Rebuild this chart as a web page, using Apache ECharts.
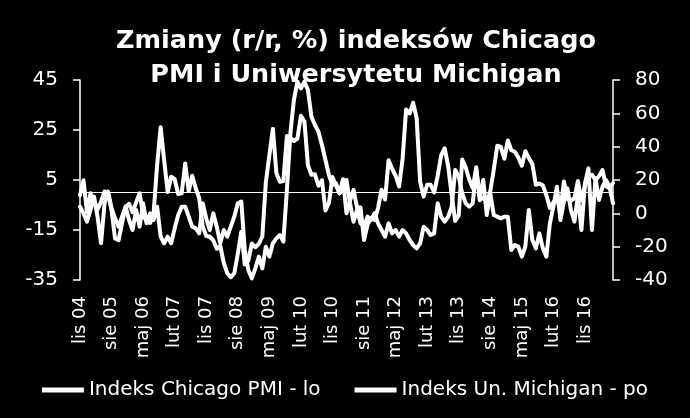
<!DOCTYPE html>
<html>
<head>
<meta charset="utf-8">
<script src="https://cdn.jsdelivr.net/npm/echarts@6/dist/echarts.min.js"></script>
<style>
html,body{margin:0;padding:0;background:#000;}
#chart{width:690px;height:418px;}
</style>
</head>
<body>
<div id="chart"></div>
<script>
// Month names (Polish) used for category labels
const monthNames = ['sty','lut','mar','kwi','maj','cze','lip','sie','wrz','paź','lis','gru'];
const startYear = 2004, startMonth = 10, nMonths = 153; // lis 04 .. lip 17

// Left axis series (legend: "Indeks Chicago PMI - lo"), % y/y
const pmiChicago = [
  -1.0, 4.9,
  -8.0, -0.3, -3.3, -6.9, -3.7, 0.4, -0.2, -7.1, -18.4, -19.1, -12.1, -5.8,
  -4.5, -7.9, -4.0, -0.3, -9.0, -11.6, -12.2, -8.0, 11.0, 26.1, 12.9, 0.2,
  6.3, 5.3, -0.6, -0.3, 11.6, 0.5, 6.7, 1.7, -2.3, -13.6, -17.4, -17.7,
  -19.1, -22.5, -21.4, -28.1, -32.3, -33.9, -32.3, -24.5, -15.7, -28.8, -27.3, -20.4,
  -21.9, -20.5, -17.6, 4.0, 14.9, 25.5, 7.8, 4.3, 4.6, 22.6, 21.9, 20.6,
  21.6, 30.7, 28.4, 10.9, 7.1, 7.3, 2.7, 4.9, -7.2, -4.1, 6.2, 2.8,
  -0.3, 5.3, -8.3, -3.3, 1.0, -5.9, -6.0, -19.0, -12.8, -10.2, -11.0, -6.2,
  1.1, -2.8, 12.9, 9.5, 6.7, 2.4, 13.5, 33.2, 31.6, 35.9, 29.8, 4.3,
  -1.6, 3.1, 3.1, 0.0, 6.6, 14.9, 17.7, 10.5, -1.0, -11.4, -9.2, 13.2,
  10.0, 5.2, 1.8, 10.1, -3.1, -1.9, -3.9, 0.5, 9.2, 18.7, 18.2, 13.5,
  20.8, 16.9, 16.3, 14.0, 10.7, 16.5, 13.8, 11.4, 3.1, 3.6, 2.8, -1.1,
  -6.2, -3.9, -2.2, -7.2, 4.4, -2.7, -3.3, -2.3, 4.6, -3.1, 2.7, 6.0,
  7.1, 5.0, 6.5, 9.0, 2.5, 1.7, 3.8
];

// Right axis series (legend: "Indeks Un. Michigan - po"), % y/y
const umMichigan = [
  4, 0,
  -5, 2, 10, -2, -18, 6, 13, 3, -3, -8, -2, 4,
  -4, -10, 2, -8, 6, -6, 0, -4, 4, -14, -18, -14,
  -18, -9, -1, 4, 4, -2, -8, -9, -12, 6, -3, -10,
  0, -8, -18, -10, -14, -8, -2, 6, 7, -22, -34, -39,
  -33, -26, -33, -20, -26, -18, -15, -13, -17, 14, 48, 68,
  79, 75, 79, 74, 58, 53, 49, 41, 32, 23, 17, 18,
  12, 14, 20, 6, -5, 2, -6, -8, -2, -4, 0, -6,
  -10, -14, -6, -12, -10, -14, -10, -12, -16, -19, -21, -18,
  -8, -10, -13, -12, 6, -2, -5, -2, 4, 26, 22, 12,
  6, 4, 6, 26, 10, 20, -1, 12, -1, -2, -3, -2,
  -2, -22, -19, -20, -26, -20, 2, -16, -21, -12, -21, -26,
  -6, 4, 16, -4, 7, 15, 2, -5, 11, -10, 18, 27,
  -10, 21, 8, 16, 20, 16, 6
];

const seriesNames = ['Indeks Chicago PMI - lo', 'Indeks Un. Michigan - po'];
const titleText = 'Zmiany (r/r, %) indeksów Chicago\nPMI i Uniwersytetu Michigan';

const categories = [];
for (let i = 0; i < nMonths; i++) {
  const m = (startMonth + i) % 12;
  const y = startYear + Math.floor((startMonth + i) / 12);
  categories.push(monthNames[m] + ' ' + String(y % 100).padStart(2, '0'));
}

const FONT = 'DejaVu Sans';
const chart = echarts.init(document.getElementById('chart'));
chart.setOption({
  backgroundColor: '#000',
  animation: false,
  title: {
    text: titleText,
    left: 351,
    textAlign: 'center',
    top: 19,
    textStyle: { color: '#fff', fontFamily: FONT, fontWeight: 'bold', fontSize: 25.5, lineHeight: 34 }
  },
  legend: {
    data: seriesNames,
    left: 'center',
    top: 375,
    icon: 'rect',
    itemWidth: 42,
    itemHeight: 5,
    itemGap: 34,
    textStyle: { color: '#fff', fontFamily: FONT, fontSize: 20 }
  },
  grid: { left: 80, right: 77, top: 80, bottom: 138 },
  xAxis: {
    type: 'category',
    data: categories,
    boundaryGap: false,
    axisLine: { show: false },
    axisTick: { show: false },
    axisLabel: { interval: 8, rotate: 90, color: '#fff', fontFamily: FONT, fontSize: 18, margin: 16 }
  },
  yAxis: [
    {
      type: 'value', min: -35, max: 45, interval: 20, position: 'left',
      axisLine: { show: true, lineStyle: { color: '#fff', width: 1.5 } },
      axisTick: { show: true, length: 7, lineStyle: { color: '#fff', width: 1.5 } },
      splitLine: { show: false },
      axisLabel: { color: '#fff', fontFamily: FONT, fontSize: 20, margin: 22 }
    },
    {
      type: 'value', min: -40, max: 80, interval: 20, position: 'right',
      axisLine: { show: true, lineStyle: { color: '#fff', width: 1.5 } },
      axisTick: { show: true, length: 7, lineStyle: { color: '#fff', width: 1.5 } },
      splitLine: { show: false },
      axisLabel: { color: '#fff', fontFamily: FONT, fontSize: 20, margin: 22 }
    }
  ],
  series: [
    {
      name: seriesNames[0], type: 'line', yAxisIndex: 0, data: pmiChicago,
      showSymbol: false, color: '#fff',
      lineStyle: { color: '#fff', width: 4, cap: 'round', join: 'round' },
      markLine: {
        silent: true, symbol: 'none', label: { show: false },
        lineStyle: { color: '#fff', width: 1, type: 'solid' },
        data: [{ yAxis: 0 }]
      }
    },
    {
      name: seriesNames[1], type: 'line', yAxisIndex: 1, data: umMichigan,
      showSymbol: false, color: '#fff',
      lineStyle: { color: '#fff', width: 4, cap: 'round', join: 'round' }
    }
  ]
});
</script>
</body>
</html>
